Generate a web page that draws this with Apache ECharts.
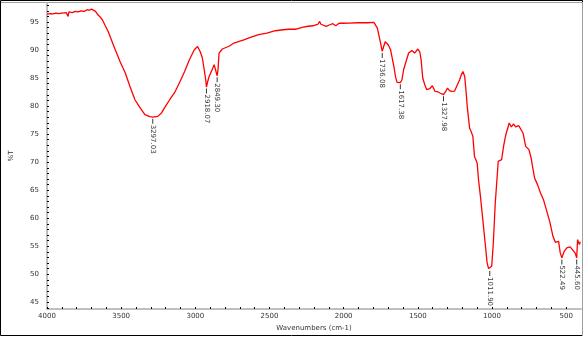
<!DOCTYPE html>
<html>
<head>
<meta charset="utf-8">
<script src="https://cdn.jsdelivr.net/npm/echarts@6/dist/echarts.min.js"></script>
<style>
  html, body { margin: 0; padding: 0; background: #fff; }
  #chart { width: 584px; height: 337px; }
</style>
</head>
<body>
<div id="chart"></div>
<script>
// FTIR spectrum
const wavenumbers = [
  4000, 3980, 3960, 3940, 3920, 3900, 3870, 3858, 3852, 3830, 3810, 3790, 3770, 3750, 3730, 3715, 3700, 3690, 3673, 3660, 3645,
  3627, 3587, 3540, 3507, 3473, 3440, 3407, 3373, 3340, 3307, 3287, 3253, 3227, 3207, 3173, 3140, 3107, 3073, 3040, 3007,
  2985, 2967, 2953, 2940, 2930, 2925, 2917, 2907, 2887, 2873, 2860, 2853, 2847, 2840, 2818, 2773, 2740, 2673, 2629, 2573,
  2518, 2460, 2407, 2373, 2353, 2340, 2320, 2273, 2240, 2207, 2173, 2162, 2153, 2118, 2093, 2073, 2053, 2029, 2007, 1962,
  1907, 1840, 1796, 1773, 1751, 1740, 1733, 1720, 1713, 1700, 1684, 1673, 1660, 1651, 1640, 1627, 1618, 1607, 1596, 1580,
  1562, 1540, 1522, 1500, 1487, 1478, 1467, 1453, 1440, 1420, 1402, 1384, 1367, 1351, 1340, 1327, 1313, 1300, 1287, 1273,
  1253, 1240, 1218, 1207, 1196, 1184, 1173, 1167, 1151, 1140, 1129, 1118, 1100, 1091, 1078, 1062, 1044, 1033, 1023, 1015,
  1002, 991, 978, 962, 958, 935, 922, 907, 893, 884, 869, 856, 840, 820, 807, 791, 773, 751, 736, 729,
  713, 693, 673, 653, 640, 611, 589, 573, 551, 540, 529, 513, 496, 473, 458, 440, 429, 423, 418, 411, 405
];
const transmittance = [
  96.43, 96.5, 96.45, 96.6, 96.5, 96.6, 96.7, 96.0, 96.8, 96.7, 96.9, 96.8, 97.0, 96.9, 97.2, 97.1, 97.3, 97.0, 96.9, 96.4, 96.0,
  95.41, 93.27, 90.06, 87.92, 85.96, 83.46, 81.14, 79.72, 78.47, 78.11, 78.02, 78.17, 78.83, 79.72, 81.14, 82.39, 84.18, 86.14, 88.28, 90.06,
  90.65, 89.70, 88.63, 86.49, 84.71, 83.41, 84.35, 85.30, 86.49, 87.39, 87.56, 85.42, 86.49, 89.47, 90.19, 90.68, 91.26, 91.84, 92.25, 92.74,
  93.04, 93.45, 93.63, 93.72, 93.75, 93.45, 93.72, 94.11, 94.25, 94.34, 94.61, 95.11, 94.61, 94.22, 94.52, 94.70, 94.34, 94.82, 94.79, 94.82,
  94.88, 94.88, 94.93, 93.93, 91.26, 89.76, 90.42, 91.49, 91.54, 90.95, 90.06, 88.63, 86.85, 85.30, 84.23, 84.0, 84.18, 84.71, 86.49, 87.92,
  89.47, 89.94, 89.47, 90.19, 89.70, 88.28, 85.01, 83.82, 82.93, 83.11, 83.64, 82.62, 82.57, 82.34, 82.04, 82.04, 82.57, 83.23, 82.75, 82.62,
  82.66, 82.93, 84.71, 85.60, 86.19, 85.30, 82.04, 79.95, 76.10, 75.44, 74.60, 71.03, 69.86, 66.88, 63.90, 59.75, 54.99, 52.03, 51.01, 50.83,
  51.42, 55.59, 62.72, 68.66, 70.14, 70.45, 72.82, 74.90, 76.15, 76.99, 76.28, 76.81, 76.28, 76.51, 76.51, 75.21, 72.82, 72.23, 70.75, 69.55,
  67.18, 65.99, 64.51, 63.31, 62.12, 59.44, 56.77, 55.70, 55.88, 53.81, 52.92, 54.10, 54.70, 54.88, 54.40, 53.81, 52.92, 56.18, 56.18, 55.29, 55.8
];

// peak picks
const peakWn = [3287, 2925, 2853, 1740, 1618, 1327, 1015, 529, 429];
const peakT = [78.02, 83.41, 85.42, 89.76, 84.18, 82.04, 50.83, 52.92, 52.92];
const peakLabels = ['3297.03', '2918.07', '2849.30', '1736.08', '1617.38', '1327.98', '1011.90', '522.49', '445.60'];

const xLabelTicks = [4000, 3500, 3000, 2500, 2000, 1500, 1000, 500];
const xMinorTicks = [4000, 3900, 3800, 3700, 3600, 3500, 3400, 3300, 3200, 3100, 3000, 2900, 2800, 2700, 2600, 2500, 2400, 2300,
  2200, 2100, 2000, 1900, 1800, 1700, 1600, 1500, 1400, 1300, 1200, 1100, 1000, 900, 800, 700, 600, 500];
const yLabelTicks = [45, 50, 55, 60, 65, 70, 75, 80, 85, 90, 95];
const yMinorTicks = [44, 45, 46, 47, 48, 49, 50, 51, 52, 53, 54, 55, 56, 57, 58, 59, 60, 61, 62, 63, 64, 65, 66, 67, 68, 69, 70,
  71, 72, 73, 74, 75, 76, 77, 78, 79, 80, 81, 82, 83, 84, 85, 86, 87, 88, 89, 90, 91, 92, 93, 94, 95, 96, 97, 98];

const chart = echarts.init(document.getElementById('chart'));
const tickFont = { fontSize: 7, color: '#333', fontFamily: 'DejaVu Sans' };

let option = {
  animation: false,
  backgroundColor: '#fff',
  grid: { left: 41, right: 3, top: 3, bottom: 28 },
  xAxis: {
    type: 'value',
    inverse: true,
    min: 400,
    max: 4000,
    name: 'Wavenumbers (cm-1)',
    nameLocation: 'middle',
    nameGap: 15,
    nameTextStyle: { fontSize: 7, color: '#333', fontFamily: 'DejaVu Sans' },
    axisLine: { lineStyle: { color: '#c0c0c0', width: 2 } },
    axisTick: { customValues: xMinorTicks, inside: true, length: 2, lineStyle: { color: '#000', width: 1 } },
    axisLabel: Object.assign({ customValues: xLabelTicks, margin: 4, formatter: (v) => String(v) }, tickFont),
    splitLine: { show: false }
  },
  yAxis: {
    type: 'value',
    min: 43.8,
    max: 98.4,
    name: '%T',
    nameLocation: 'middle',
    nameGap: 32,
    nameRotate: 90,
    nameTextStyle: { fontSize: 7, color: '#333', fontFamily: 'DejaVu Sans' },
    axisLine: { show: true, lineStyle: { color: '#c0c0c0', width: 2 } },
    axisTick: { customValues: yMinorTicks, inside: true, length: 2, lineStyle: { color: '#000', width: 1 } },
    axisLabel: Object.assign({ customValues: yLabelTicks, margin: 8, formatter: (v) => String(v) }, tickFont),
    splitLine: { show: false }
  },
  series: [
    {
      name: 'spectrum',
      type: 'line',
      symbol: 'none',
      color: '#ff0000',
      lineStyle: { width: 1.3 },
      data: wavenumbers.map((w, i) => [w, transmittance[i]])
    },
    {
      name: 'peaks',
      type: 'scatter',
      symbol: 'rect',
      symbolSize: [1, 5],
      symbolOffset: [0, 4],
      itemStyle: { color: '#000' },
      label: {
        show: true,
        position: 'bottom',
        distance: 1,
        rotate: -90,
        align: 'left',
        verticalAlign: 'middle',
        fontSize: 7,
        color: '#000',
        fontFamily: 'DejaVu Sans',
        formatter: (p) => peakLabels[p.dataIndex]
      },
      data: peakWn.map((w, i) => [w, peakT[i]])
    }
  ],
  graphic: [
    { type: 'rect', shape: { x: 0.5, y: 0.5, width: 582, height: 335 }, style: { fill: 'none', stroke: '#000', lineWidth: 1 } },
    { type: 'line', shape: { x1: 1, y1: 2.5, x2: 583, y2: 2.5 }, style: { stroke: '#a0a0a0', lineWidth: 1 } },
    { type: 'line', shape: { x1: 582.5, y1: 2, x2: 582.5, y2: 336 }, style: { stroke: '#a0a0a0', lineWidth: 1 } }
  ]
};

chart.setOption(option);
</script>
</body>
</html>
